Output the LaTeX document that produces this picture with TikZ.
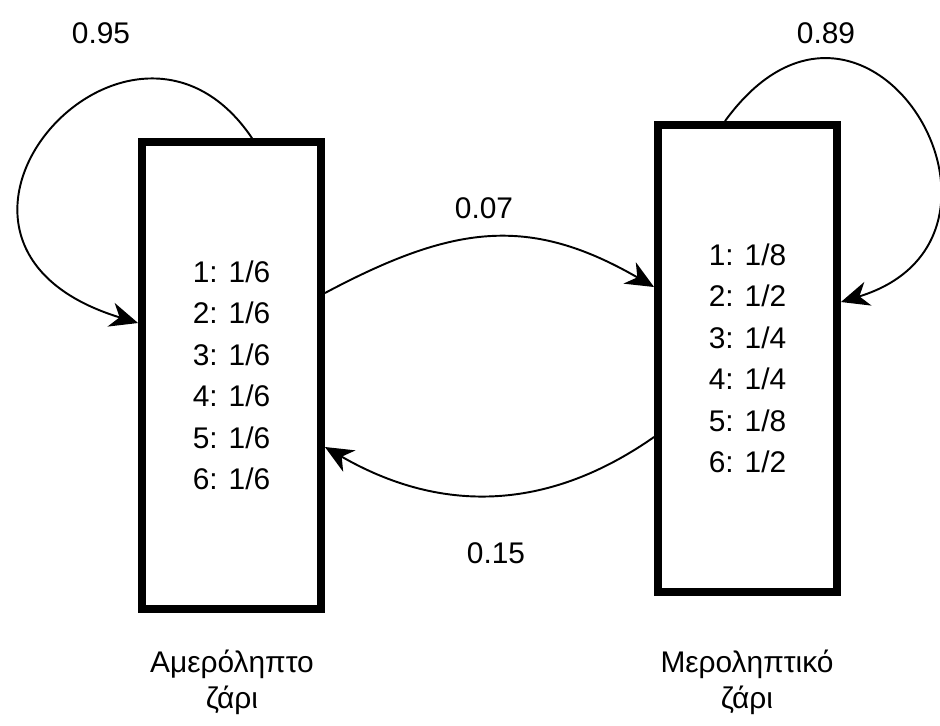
\documentclass[tikz,border=0pt]{standalone}
\usepackage{fontspec}
\setmainfont{Liberation Sans}
\usetikzlibrary{arrows.meta}

\begin{document}
\begin{tikzpicture}
    [ x=0.02cm, y=0.02cm
    , font=\fontsize{17}{23.6}\selectfont
    , dice/.style={draw, line width=4.5pt, minimum width=3.58cm, minimum height=9.34cm, align=center, inner sep=0pt}
    , prob/.style={-{Stealth[length=16pt, width=14pt, inset=5pt]}, line width=1.1pt}
    , dicename/.style={align=center, font=\fontsize{17}{20.4}\selectfont}
    ]
\useasboundingbox (0,0) rectangle (940,-725);
\node[dice] (fair) at (231.5,-375.5) {1: 1/6\\2: 1/6\\3: 1/6\\4: 1/6\\5: 1/6\\6: 1/6};
\node[dice] (biased) at (747.5,-358.5) {1: 1/8\\2: 1/2\\3: 1/4\\4: 1/4\\5: 1/8\\6: 1/2};
\node[dicename] (fairname) at (232,-682) {Αμερόληπτο\\ζάρι};
\node[dicename] (biasedname) at (747,-682) {Μεροληπτικό\\ζάρι};
% transitions
\draw[prob] ([xshift=0.41cm]fair.north) to[out=124, in=163, out distance=4.4cm, in distance=5.5cm] ([yshift=1.05cm]fair.west);
\draw[prob] ([xshift=-0.45cm]biased.north) to[out=54, in=17, out distance=4.8cm, in distance=4.4cm] ([yshift=1.13cm]biased.east);
\draw[prob] ([yshift=1.65cm]fair.east) to[out=28, in=150, distance=2.9cm] ([yshift=1.43cm]biased.west);
\draw[prob] ([yshift=-1.57cm]biased.west) to[out=215, in=330, distance=2.64cm] ([yshift=-1.43cm]fair.east);
\node (pff) at (101,-33) {0.95};
\node (pbb) at (826,-33) {0.89};
\node (pfb) at (484,-208) {0.07};
\node (pbf) at (496,-553) {0.15};
\end{tikzpicture}
\end{document}
